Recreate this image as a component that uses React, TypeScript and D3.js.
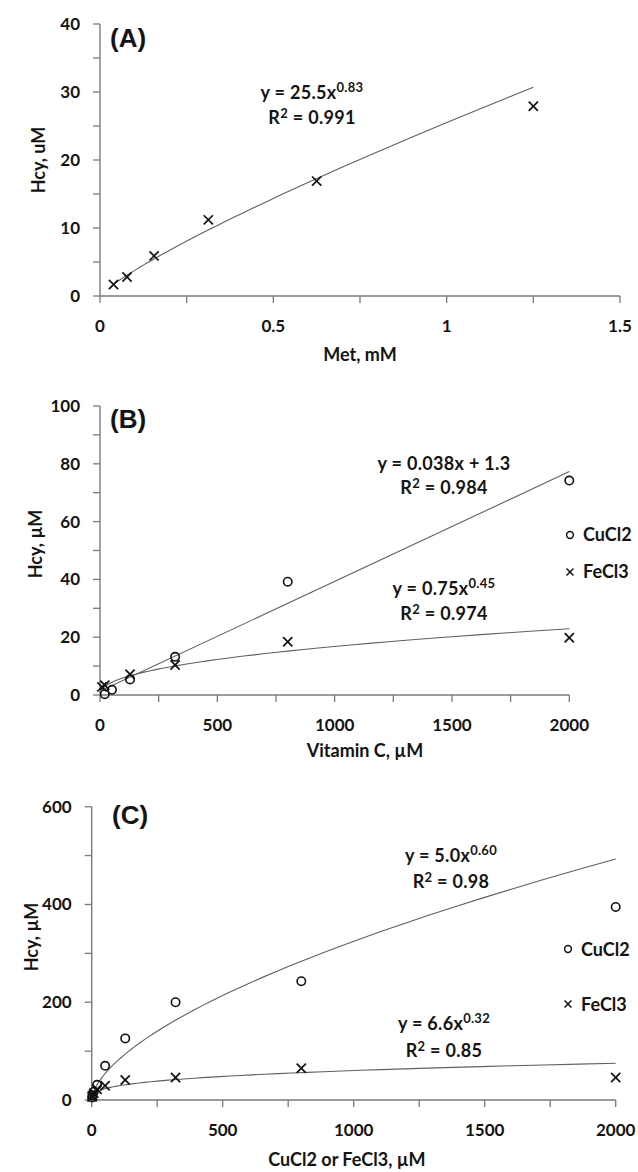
import React from "react";
import * as d3 from "d3";

// ---------- Data ----------
// Panel A: Met (mM) vs Hcy (uM)
const metX = [0.039, 0.078, 0.156, 0.3125, 0.625, 1.25];
const metHcy = [1.7, 2.8, 5.9, 11.2, 16.9, 27.9];
const fitA = [25.5, 0.83]; // power fit a*x^b

// Panel B: Vitamin C (uM) vs Hcy (uM)
const vitCuX = [20.48, 51.2, 128, 320, 800, 2000];
const vitCuY = [0.3, 1.8, 5.4, 13.2, 39.2, 74.2];
const vitFeX = [8.19, 20.48, 128, 320, 800, 2000];
const vitFeY = [2.8, 3.4, 7.2, 10.4, 18.4, 19.8];
const fitBCu = [0.038, 1.3]; // linear m*x + c
const fitBFe = [0.75, 0.45]; // power

// Panel C: CuCl2 or FeCl3 (uM) vs Hcy (uM)
const metalCuX = [1.31, 3.28, 8.19, 20.48, 51.2, 128, 320, 800, 2000];
const metalCuY = [5, 9, 17, 31, 70, 126, 200, 243, 395];
const metalFeX = [1.31, 3.28, 8.19, 20.48, 51.2, 128, 320, 800, 2000];
const metalFeY = [6, 9, 14, 22, 29, 41, 46, 65, 46];
const fitCCu = [5.04, 0.603];
const fitCFe = [6.6, 0.32];

// Axis ticks
const ticksAX = [0, 0.5, 1, 1.5];
const ticksAXminor = [0.25, 0.75, 1.25];
const ticksAY = [0, 10, 20, 30, 40];
const ticksAYminor = [5, 15, 25, 35];
const ticksBX = [0, 500, 1000, 1500, 2000];
const ticksBXminor = [250, 750, 1250, 1750];
const ticksBY = [0, 20, 40, 60, 80, 100];
const ticksBYminor = [10, 30, 50, 70, 90];
const ticksCX = [0, 500, 1000, 1500, 2000];
const ticksCXminor = [250, 750, 1250, 1750];
const ticksCY = [0, 200, 400, 600];
const ticksCYminor = [100, 300, 500];

const FONT = "Lato, 'Open Sans', sans-serif";
const AXIS = "#7a7a7a";
const LINE = "#606060";
const TXT = "#141414";

type Pt = [number, number];

function logSpace(x0: number, x1: number, n: number): number[] {
  const s = d3.scaleLog().domain([0, n - 1]).range([x0, x1]);
  return d3.range(n).map((i) => x0 * Math.pow(x1 / x0, i / (n - 1)));
}

const Cross = ({ x, y, s = 4.6, w = 1.7 }: { x: number; y: number; s?: number; w?: number }) => (
  <g stroke="#111" strokeWidth={w} strokeLinecap="butt">
    <line x1={x - s} y1={y - s} x2={x + s} y2={y + s} />
    <line x1={x - s} y1={y + s} x2={x + s} y2={y - s} />
  </g>
);

const Circ = ({ x, y, r = 4.2, w = 1.6 }: { x: number; y: number; r?: number; w?: number }) => (
  <circle cx={x} cy={y} r={r} fill="none" stroke="#111" strokeWidth={w} />
);

function Axes({
  xs, ys, xt, xtm, yt, ytm, fmtX,
}: {
  xs: d3.ScaleLinear<number, number>;
  ys: d3.ScaleLinear<number, number>;
  xt: number[]; xtm: number[]; yt: number[]; ytm: number[];
  fmtX: (v: number) => string;
}) {
  const [x0, x1] = xs.range();
  const [y0, y1] = ys.range();
  return (
    <g>
      <line x1={x0} x2={x1} y1={y0} y2={y0} stroke={AXIS} strokeWidth={1.4} />
      <line x1={x0} x2={x0} y1={y0} y2={y1} stroke={AXIS} strokeWidth={1.4} />
      {[...xt, ...xtm].map((v) => (
        <line key={"xt" + v} x1={xs(v)} x2={xs(v)} y1={y0} y2={y0 + 7} stroke={AXIS} strokeWidth={1.3} />
      ))}
      {[...yt, ...ytm].map((v) => (
        <line key={"yt" + v} x1={x0 - 7} x2={x0} y1={ys(v)} y2={ys(v)} stroke={AXIS} strokeWidth={1.3} />
      ))}
      {xt.map((v) => (
        <text key={"xl" + v} x={xs(v)} y={y0 + 36} textAnchor="middle" fontFamily={FONT} fontWeight="bold" fontSize={17} fill={TXT}>
          {fmtX(v)}
        </text>
      ))}
      {yt.map((v) => (
        <text key={"yl" + v} x={x0 - 20} y={ys(v) + 6} textAnchor="end" fontFamily={FONT} fontWeight="bold" fontSize={17} fill={TXT}>
          {v}
        </text>
      ))}
    </g>
  );
}

const Eq = ({ x, y, main, sup }: { x: number; y: number; main: string; sup?: string }) => (
  <text x={x} y={y} textAnchor="middle" fontFamily={FONT} fontWeight="bold" fontSize={18} fill={TXT} letterSpacing={0.3}>
    {main}
    {sup ? (
      <tspan dy={-7} fontSize={13}>
        {sup}
      </tspan>
    ) : null}
  </text>
);

const R2 = ({ x, y, val }: { x: number; y: number; val: string }) => (
  <text x={x} y={y} textAnchor="middle" fontFamily={FONT} fontWeight="bold" fontSize={18} fill={TXT} letterSpacing={0.3}>
    R<tspan fontSize={13} dy={-6}>2</tspan>
    <tspan dy={6}>{" = " + val}</tspan>
  </text>
);

const YTitle = ({ x, y, t }: { x: number; y: number; t: string }) => (
  <text transform={`translate(${x},${y}) rotate(-90)`} textAnchor="middle" fontFamily={FONT} fontWeight="bold" fontSize={18} fill={TXT}>
    {t}
  </text>
);

const XTitle = ({ x, y, t }: { x: number; y: number; t: string }) => (
  <text x={x} y={y} textAnchor="middle" fontFamily={FONT} fontWeight="bold" fontSize={18} fill={TXT}>
    {t}
  </text>
);

const PanelLabel = ({ x, y, t }: { x: number; y: number; t: string }) => (
  <text x={x} y={y} fontFamily="'Liberation Sans', Arial, sans-serif" fontWeight="bold" fontSize={26} fill={TXT}>
    {t}
  </text>
);

export default function App() {
  // Panel A
  const xA = d3.scaleLinear().domain([0, 1.5]).range([100, 620]);
  const yA = d3.scaleLinear().domain([0, 40]).range([296, 24]);
  const lineA = d3.line<Pt>().x((d) => xA(d[0])).y((d) => yA(d[1]));
  const curveA: Pt[] = logSpace(metX[0], metX[metX.length - 1], 60).map((x) => [x, fitA[0] * Math.pow(x, fitA[1])]);

  // Panel B
  const xB = d3.scaleLinear().domain([0, 2000]).range([100, 569.3]);
  const yB = d3.scaleLinear().domain([0, 100]).range([695, 406]);
  const lineB = d3.line<Pt>().x((d) => xB(d[0])).y((d) => yB(d[1]));
  const bMin = Math.min(vitFeX[0], vitCuX[0]);
  const curveBCu: Pt[] = [bMin, 2000].map((x) => [x, fitBCu[0] * x + fitBCu[1]]);
  const curveBFe: Pt[] = logSpace(bMin, 2000, 80).map((x) => [x, fitBFe[0] * Math.pow(x, fitBFe[1])]);

  // Panel C
  const xC = d3.scaleLinear().domain([0, 2000]).range([91.7, 615.7]);
  const yC = d3.scaleLinear().domain([0, 600]).range([1100, 806.7]);
  const lineC = d3.line<Pt>().x((d) => xC(d[0])).y((d) => yC(d[1]));
  const curveCCu: Pt[] = logSpace(metalCuX[0], 2000, 100).map((x) => [x, fitCCu[0] * Math.pow(x, fitCCu[1])]);
  const curveCFe: Pt[] = logSpace(metalFeX[0], 2000, 100).map((x) => [x, fitCFe[0] * Math.pow(x, fitCFe[1])]);

  const fmtA = (v: number) => (v === 0 ? "0" : String(v));
  const fmtN = (v: number) => String(v);

  return (
    <svg
      width={638}
      height={1172}
      style={{ position: "absolute", left: 0, top: 0, background: "#fff" }}
    >
      <rect width={638} height={1172} fill="#fff" />
      {/* Panel A */}
      <Axes xs={xA} ys={yA} xt={ticksAX} xtm={ticksAXminor} yt={ticksAY} ytm={ticksAYminor} fmtX={fmtA} />
      <path d={lineA(curveA) || ""} fill="none" stroke={LINE} strokeWidth={1.1} />
      {metX.map((x, i) => (
        <Cross key={"a" + i} x={xA(x)} y={yA(metHcy[i])} />
      ))}
      <Eq x={312} y={99} main="y = 25.5x" sup="0.83" />
      <R2 x={312} y={124} val="0.991" />
      <PanelLabel x={110} y={47} t="(A)" />
      <YTitle x={45} y={160} t="Hcy, uM" />
      <XTitle x={360} y={361} t="Met, mM" />

      {/* Panel B */}
      <Axes xs={xB} ys={yB} xt={ticksBX} xtm={ticksBXminor} yt={ticksBY} ytm={ticksBYminor} fmtX={fmtN} />
      <path d={lineB(curveBCu) || ""} fill="none" stroke={LINE} strokeWidth={1.1} />
      <path d={lineB(curveBFe) || ""} fill="none" stroke={LINE} strokeWidth={1.1} />
      {vitFeX.map((x, i) => (
        <Cross key={"bf" + i} x={xB(x)} y={yB(vitFeY[i])} />
      ))}
      {vitCuX.map((x, i) => (
        <Circ key={"bc" + i} x={xB(x)} y={yB(vitCuY[i])} />
      ))}
      <Eq x={444} y={470} main="y = 0.038x + 1.3" />
      <R2 x={444} y={494} val="0.984" />
      <Eq x={444} y={595} main="y = 0.75x" sup="0.45" />
      <R2 x={444} y={620} val="0.974" />
      <Circ x={570} y={535} r={3.4} w={1.5} />
      <text x={583} y={541} fontFamily={FONT} fontWeight="bold" fontSize={18} fill={TXT}>CuCl2</text>
      <Cross x={570} y={572} s={3.5} w={1.5} />
      <text x={583} y={578} fontFamily={FONT} fontWeight="bold" fontSize={18} fill={TXT}>FeCl3</text>
      <PanelLabel x={110} y={428} t="(B)" />
      <YTitle x={42} y={544} t="Hcy, µM" />
      <XTitle x={365} y={757} t="Vitamin C, µM" />

      {/* Panel C */}
      <Axes xs={xC} ys={yC} xt={ticksCX} xtm={ticksCXminor} yt={ticksCY} ytm={ticksCYminor} fmtX={fmtN} />
      <path d={lineC(curveCCu) || ""} fill="none" stroke={LINE} strokeWidth={1.1} />
      <path d={lineC(curveCFe) || ""} fill="none" stroke={LINE} strokeWidth={1.1} />
      {metalFeX.map((x, i) => (
        <Cross key={"cf" + i} x={xC(x)} y={yC(metalFeY[i])} />
      ))}
      {metalCuX.map((x, i) => (
        <Circ key={"cc" + i} x={xC(x)} y={yC(metalCuY[i])} />
      ))}
      <Eq x={451} y={862} main="y = 5.0x" sup="0.60" />
      <R2 x={451} y={888} val="0.98" />
      <Eq x={444} y={1030} main="y = 6.6x" sup="0.32" />
      <R2 x={444} y={1057} val="0.85" />
      <Circ x={568} y={949} r={3.4} w={1.5} />
      <text x={581} y={956} fontFamily={FONT} fontWeight="bold" fontSize={18} fill={TXT}>CuCl2</text>
      <Cross x={568} y={1004} s={3.5} w={1.5} />
      <text x={581} y={1011} fontFamily={FONT} fontWeight="bold" fontSize={18} fill={TXT}>FeCl3</text>
      <PanelLabel x={112} y={824} t="(C)" />
      <YTitle x={38} y={937} t="Hcy, µM" />
      <XTitle x={347} y={1166} t="CuCl2 or FeCl3, µM" />
    </svg>
  );
}
